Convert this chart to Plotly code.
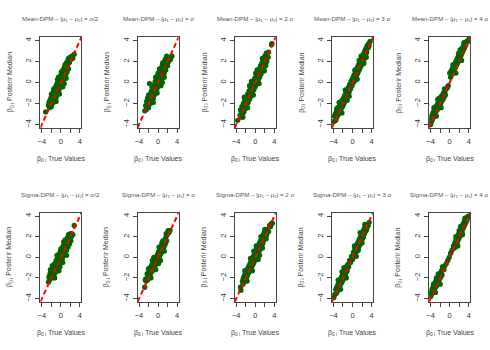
import plotly.graph_objects as go

# ---- data: (true value, posterior median) pairs ----
mean_half = [(-3.2,-2.8),(-2.6,-2.2),(-2.5,-1.9),(-2.4,-2.4),(-2.3,-1.7),(-2.2,-2.1),(-2.1,-1.5),(-2.0,-2.3),(-1.9,-1.8),(-1.8,-1.2),(-1.8,-2.0),(-1.7,-1.5),(-1.6,-0.9),(-1.6,-1.9),(-1.5,-1.3),(-1.4,-0.7),(-1.4,-1.7),(-1.3,-1.1),(-1.2,-0.5),(-1.2,-1.5),(-1.1,-0.9),(-1.0,-0.3),(-1.0,-1.4),(-0.9,-0.7),(-0.8,-0.1),(-0.8,-1.1),(-0.7,-0.5),(-0.6,0.1),(-0.6,-0.9),(-0.5,-0.3),(-0.4,0.3),(-0.4,-0.7),(-0.3,-0.1),(-0.2,0.5),(-0.2,-0.5),(-0.1,0.1),(0.0,0.7),(0.0,-0.4),(0.1,0.3),(0.2,0.9),(0.2,-0.1),(0.3,0.5),(0.4,1.1),(0.4,0.1),(0.5,0.7),(0.6,1.3),(0.6,0.3),(0.7,0.9),(0.8,1.5),(0.8,0.5),(0.9,1.1),(1.0,1.7),(1.0,0.7),(1.1,1.3),(1.2,1.9),(1.3,1.0),(1.4,1.6),(1.5,2.1),(1.6,1.3),(1.8,1.9),(1.9,2.4),(2.1,2.2),(2.3,2.5),(2.5,2.3),(2.8,2.7),
             (-1.5,-0.6),(-1.0,-1.8),(-0.7,0.3),(-0.3,-1.1),(0.1,1.0),(0.4,-0.4),(0.9,1.7),(1.1,0.4),(1.6,2.3),(-2.0,-1.1),(-0.5,0.5),(0.7,-0.1)]
mean_1 = [(-2.8,-2.7),(-2.6,-2.2),(-2.5,-2.6),(-2.4,-1.8),(-2.3,-2.3),(-2.2,-1.5),(-2.1,-2.0),(-2.0,-2.4),(-1.9,-1.4),(-1.8,-1.8),(-1.8,-0.1),(-1.7,-1.1),(-1.6,-2.0),(-1.5,-1.4),(-1.4,-0.8),(-1.3,-1.7),(-1.2,-1.1),(-1.1,-0.5),(-1.0,-1.5),(-0.9,-0.8),(-0.8,-0.2),(-0.8,-1.2),(-0.7,-0.6),(-0.6,0.1),(-0.5,-0.9),(-0.4,-0.3),(-0.3,0.4),(-0.3,-0.7),(-0.2,0.0),(-0.1,0.6),(0.0,-0.4),(0.1,0.2),(0.2,0.9),(0.2,-0.2),(0.3,0.5),(0.4,1.1),(0.5,0.1),(0.6,0.8),(0.7,1.4),(0.7,0.3),(0.8,1.0),(0.9,1.7),(1.0,0.6),(1.1,1.3),(1.2,1.9),(1.3,0.9),(1.4,1.6),(1.5,2.2),(1.6,1.2),(1.7,1.9),(1.9,2.3),(2.0,1.6),(2.2,2.0),(2.4,2.4),(2.6,2.2),(2.9,2.5),
          (-1.3,-0.4),(-1.0,-1.9),(-0.5,0.5),(-0.2,-1.0),(0.3,1.3),(0.6,-0.3),(1.0,1.9),(1.3,0.5),(1.8,2.5),(-2.0,-1.2),(0.0,0.9),(0.9,0.0)]
mean_2 = [(-3.7,-3.6),(-3.2,-3.1),(-3.1,-2.6),(-3.0,-3.3),(-2.9,-2.8),(-2.8,-2.3),(-2.7,-3.0),(-2.6,-2.5),(-2.5,-2.0),(-2.4,-2.8),(-2.3,-2.2),(-2.2,-1.7),(-2.1,-2.5),(-2.0,-1.9),(-1.9,-1.4),(-1.8,-2.2),(-1.7,-1.6),(-1.6,-1.1),(-1.5,-1.9),(-1.4,-1.3),(-1.3,-0.8),(-1.2,-1.6),(-1.1,-1.0),(-1.0,-0.5),(-0.9,-1.3),(-0.8,-0.7),(-0.7,-0.2),(-0.6,-1.0),(-0.5,-0.4),(-0.4,0.1),(-0.3,-0.7),(-0.2,-0.1),(-0.1,0.4),(0.0,-0.4),(0.1,0.2),(0.2,0.7),(0.3,-0.1),(0.4,0.5),(0.5,1.0),(0.6,0.2),(0.7,0.8),(0.8,1.3),(0.9,0.5),(1.0,1.1),(1.1,1.6),(1.2,0.8),(1.3,1.4),(1.4,1.9),(1.5,1.1),(1.6,1.7),(1.7,2.2),(1.8,1.4),(1.9,2.0),(2.0,2.5),(2.1,1.7),(2.2,2.3),(2.3,2.8),(2.4,2.0),(2.5,2.6),(2.7,2.4),(2.8,2.9),(3.5,3.7),(3.4,3.6),
          (-2.3,-1.4),(-1.6,-2.4),(-0.8,0.1),(-0.4,-1.2),(0.4,1.2),(0.8,-0.1),(1.5,2.3),(1.9,1.1),(-1.2,-0.3),(0.1,0.9),(2.2,1.6),(-2.6,-3.3)]
mean_3 = [(-3.9,-3.7),(-3.8,-3.2),(-3.6,-3.0),(-3.5,-3.6),(-3.4,-2.8),(-3.3,-3.3),(-3.2,-2.6),(-3.1,-3.1),(-3.0,-2.4),(-2.9,-3.0),(-2.8,-2.3),(-2.7,-2.8),(-2.6,-2.1),(-2.5,-2.6),(-2.4,-1.9),(-2.3,-2.4),(-2.2,-1.7),(-2.1,-2.3),(-2.0,-1.6),(-1.9,-2.1),(-1.8,-1.4),(-1.7,-1.9),(-1.6,-1.2),(-1.5,-1.7),(-1.4,-1.0),(-1.3,-1.5),(-1.2,-0.8),(-1.0,-1.2),(-0.9,-0.5),(-0.7,-0.9),(-0.6,-0.2),(-0.4,-0.6),(-0.3,0.1),(-0.1,-0.3),(0.0,0.4),(0.2,0.0),(0.3,0.7),(0.5,0.2),(0.6,1.0),(0.8,0.5),(0.9,1.3),(1.0,0.8),(1.1,1.5),(1.2,1.0),(1.3,1.7),(1.4,1.2),(1.5,1.9),(1.6,1.4),(1.7,2.1),(1.8,1.6),(1.9,2.3),(2.0,1.8),(2.1,2.5),(2.2,2.0),(2.3,2.7),(2.4,2.2),(2.5,2.9),(2.6,2.5),(2.7,3.1),(2.8,2.7),(2.9,3.3),(3.0,2.9),(3.1,3.5),(3.3,3.3),(3.4,3.7),(3.5,3.5),(3.7,3.9),
          (-2.8,-1.9),(-2.2,-2.9),(-1.5,-0.7),(-1.1,-1.7),(0.5,1.2),(1.0,0.3),(1.8,2.5),(2.4,1.8),(-3.3,-2.5),(2.9,2.4),(1.4,2.1),(-0.7,-1.3)]
mean_4 = [(-4.0,-4.0),(-3.9,-3.4),(-3.8,-3.7),(-3.7,-3.1),(-3.6,-3.5),(-3.5,-2.9),(-3.4,-3.3),(-3.3,-2.7),(-3.2,-3.1),(-3.1,-2.5),(-3.0,-2.9),(-2.9,-2.3),(-2.8,-2.7),(-2.7,-2.2),(-2.6,-2.6),(-2.5,-2.0),(-2.4,-2.4),(-2.3,-1.8),(-2.2,-2.2),(-2.1,-1.7),(-2.0,-2.1),(-1.9,-1.5),(-1.8,-1.9),(-1.7,-1.3),(-1.6,-1.7),(-1.5,-1.2),(-1.4,-1.6),(-1.3,-1.0),(-1.2,-1.4),(-1.0,-0.9),(-0.9,-1.2),(-0.7,-0.6),(-0.5,-0.5),(-0.3,-0.3),(0.0,0.9),(0.2,0.5),(0.3,1.1),(0.5,0.8),(0.6,1.4),(0.8,1.0),(0.9,1.6),(1.0,1.2),(1.1,1.8),(1.2,1.4),(1.3,2.0),(1.4,1.6),(1.5,2.2),(1.6,1.8),(1.7,2.4),(1.8,2.0),(1.9,2.6),(2.0,2.2),(2.1,2.8),(2.2,2.4),(2.3,3.0),(2.4,2.6),(2.5,3.2),(2.6,2.8),(2.7,3.3),(2.8,3.0),(2.9,3.5),(3.0,3.2),(3.1,3.7),(3.2,3.4),(3.3,3.8),(3.4,3.6),(3.6,3.9),(3.8,3.9),(4.0,4.1),
          (-3.3,-2.4),(-2.8,-3.2),(-2.2,-1.5),(-1.8,-2.4),(-1.1,-0.6),(0.7,1.7),(1.3,0.9),(1.9,2.8),(2.5,2.1),(3.0,3.8),(-2.5,-1.6),(2.2,3.1)]
sigma_half = [(-2.6,-2.4),(-2.5,-1.9),(-2.4,-2.2),(-2.3,-1.6),(-2.2,-2.0),(-2.1,-1.4),(-2.0,-1.8),(-1.9,-1.2),(-1.8,-2.0),(-1.7,-1.5),(-1.6,-0.9),(-1.5,-1.8),(-1.4,-1.2),(-1.3,-0.6),(-1.2,-1.5),(-1.1,-0.9),(-1.0,-0.3),(-0.9,-1.3),(-0.8,-0.6),(-0.7,0.0),(-0.6,-1.0),(-0.5,-0.3),(-0.4,0.3),(-0.3,-0.7),(-0.2,0.0),(-0.1,0.6),(0.0,-0.4),(0.1,0.2),(0.2,0.9),(0.3,-0.1),(0.4,0.5),(0.5,1.1),(0.6,0.2),(0.7,0.8),(0.8,1.4),(0.9,0.4),(1.0,1.0),(1.1,1.6),(1.2,0.7),(1.3,1.3),(1.4,1.9),(1.5,1.0),(1.6,1.5),(1.7,2.1),(1.8,1.3),(1.9,1.8),(2.0,2.3),(2.1,1.6),(2.2,2.0),(2.3,2.3),(2.5,2.2),(2.8,3.1),
              (-1.8,-0.8),(-1.3,-2.0),(-0.8,0.2),(-0.4,-1.3),(0.0,0.8),(0.4,-0.5),(0.9,1.7),(1.2,0.2),(1.6,2.2),(-2.2,-1.2),(0.6,1.5),(-0.2,-0.9)]
sigma_1 = [(-2.8,-2.9),(-2.7,-2.2),(-2.6,-2.1),(-2.5,-2.3),(-2.3,-1.6),(-2.2,-2.2),(-2.1,-1.5),(-2.0,-1.9),(-1.9,-1.3),(-1.8,-1.8),(-1.7,-1.1),(-1.6,-1.6),(-1.5,-0.9),(-1.4,-1.4),(-1.3,-0.7),(-1.2,-1.3),(-1.1,-0.6),(-1.0,-1.1),(-0.9,-0.4),(-0.8,-0.9),(-0.7,-0.2),(-0.6,-0.8),(-0.5,-0.1),(-0.4,-0.6),(-0.3,0.1),(-0.2,-0.4),(-0.1,0.3),(0.0,-0.2),(0.1,0.5),(0.2,0.0),(0.3,0.7),(0.4,0.2),(0.5,0.9),(0.6,0.4),(0.7,1.1),(0.8,0.6),(0.9,1.3),(1.0,0.8),(1.1,1.5),(1.2,1.0),(1.3,1.6),(1.4,1.2),(1.5,1.8),(1.6,1.4),(1.7,2.0),(1.8,1.6),(1.9,2.2),(2.0,2.3),(2.1,2.6),(2.3,2.4),(2.5,2.6),
           (-2.0,-1.1),(-1.5,-2.0),(-0.9,0.0),(-0.5,-1.2),(0.2,1.0),(0.5,-0.3),(1.0,1.6),(1.3,0.6),(1.7,2.3),(-1.2,-0.3),(0.8,1.4),(0.1,-0.6)]
sigma_2 = [(-3.1,-2.9),(-3.0,-3.2),(-2.7,-2.3),(-2.6,-2.6),(-2.5,-2.0),(-2.4,-2.4),(-2.3,-1.8),(-2.2,-2.2),(-2.1,-1.6),(-2.0,-2.0),(-1.9,-1.4),(-1.8,-1.9),(-1.7,-1.2),(-1.6,-1.7),(-1.5,-1.0),(-1.4,-1.5),(-1.3,-0.8),(-1.2,-1.3),(-1.1,-0.6),(-1.0,-1.1),(-0.9,-0.4),(-0.8,-0.9),(-0.7,-0.2),(-0.6,-0.8),(-0.5,0.0),(-0.4,-0.6),(-0.3,0.2),(-0.2,-0.4),(-0.1,0.4),(0.0,-0.2),(0.1,0.6),(0.2,0.0),(0.3,0.8),(0.4,0.2),(0.5,1.0),(0.6,0.4),(0.7,1.2),(0.8,0.6),(0.9,1.4),(1.0,0.8),(1.1,1.6),(1.2,1.0),(1.3,1.8),(1.4,1.2),(1.5,2.0),(1.6,1.4),(1.7,2.2),(1.8,1.7),(1.9,2.4),(2.0,2.0),(2.2,2.6),(2.4,2.2),(2.6,2.7),(2.8,2.5),(3.0,3.1),(3.2,3.0),(3.4,3.3),(3.6,3.3),
           (-2.2,-1.3),(-1.7,-2.3),(-1.0,-0.1),(-0.6,-1.3),(0.2,1.1),(0.6,-0.2),(1.2,2.0),(1.5,0.9),(2.0,2.7),(2.3,1.8),(-0.3,0.6),(0.9,0.2)]
sigma_3 = [(-3.9,-3.9),(-3.7,-3.6),(-3.5,-3.1),(-3.4,-3.5),(-3.3,-2.9),(-3.2,-3.3),(-3.1,-2.7),(-3.0,-3.1),(-2.9,-2.5),(-2.8,-2.9),(-2.7,-2.3),(-2.6,-2.7),(-2.5,-2.1),(-2.4,-2.5),(-2.3,-1.9),(-2.2,-2.4),(-2.1,-1.7),(-2.0,-2.2),(-1.9,-1.5),(-1.8,-2.0),(-1.7,-1.3),(-1.6,-1.8),(-1.5,-1.1),(-1.4,-1.6),(-1.3,-0.9),(-1.1,-1.3),(-1.0,-0.7),(-0.8,-0.9),(-0.6,-0.3),(-0.4,-0.5),(-0.2,0.1),(0.0,-0.2),(0.2,0.5),(0.3,0.1),(0.5,0.8),(0.6,0.4),(0.8,1.1),(0.9,0.6),(1.0,1.3),(1.1,0.8),(1.2,1.5),(1.3,1.0),(1.4,1.7),(1.5,1.2),(1.6,1.9),(1.7,1.4),(1.8,2.1),(1.9,1.6),(2.0,2.3),(2.1,1.8),(2.2,2.5),(2.3,2.0),(2.4,2.7),(2.5,2.3),(2.6,2.9),(2.7,2.5),(2.8,3.0),(3.0,2.8),(3.1,3.2),(3.3,3.1),(3.5,3.4),
           (-3.0,-2.2),(-2.5,-3.1),(-1.8,-1.0),(-1.3,-2.0),(0.4,1.1),(0.8,0.1),(1.6,2.4),(2.0,1.4),(2.6,3.2),(-2.2,-1.4),(1.2,0.7),(2.9,2.6)]
sigma_4 = [(-4.0,-3.8),(-3.9,-3.4),(-3.8,-3.6),(-3.7,-3.1),(-3.6,-3.4),(-3.5,-2.9),(-3.4,-3.3),(-3.3,-2.7),(-3.2,-3.1),(-3.1,-2.5),(-3.0,-2.9),(-2.9,-2.3),(-2.8,-2.8),(-2.7,-2.2),(-2.6,-2.6),(-2.5,-2.0),(-2.4,-2.4),(-2.3,-1.8),(-2.2,-2.2),(-2.1,-1.6),(-2.0,-2.0),(-1.9,-1.5),(-1.8,-1.8),(-1.7,-1.3),(-1.6,-1.7),(-1.4,-1.1),(-1.2,-1.2),(-1.0,-0.8),(-0.7,-0.6),(-0.4,-0.3),(-0.1,0.0),(0.2,0.4),(0.5,0.7),(0.8,1.1),(1.0,0.9),(1.1,1.4),(1.2,1.1),(1.3,1.7),(1.4,1.3),(1.5,1.9),(1.6,1.5),(1.7,2.1),(1.8,1.7),(1.9,2.3),(2.0,1.9),(2.1,2.5),(2.2,2.1),(2.3,2.7),(2.4,2.3),(2.5,2.9),(2.6,2.5),(2.7,3.1),(2.8,2.8),(2.9,3.3),(3.0,3.0),(3.1,3.5),(3.2,3.2),(3.3,3.7),(3.4,3.4),(3.5,3.8),(3.6,3.6),(3.8,3.9),(3.9,4.0),
           (-3.4,-2.6),(-3.0,-3.4),(-2.4,-1.6),(-2.0,-2.6),(-1.5,-0.9),(1.3,2.0),(1.7,1.1),(2.3,3.0),(2.7,2.2),(3.2,3.8),(-2.8,-2.0),(2.0,2.6)]

panels = [mean_half, mean_1, mean_2, mean_3, mean_4,
          sigma_half, sigma_1, sigma_2, sigma_3, sigma_4]
models = ["Mean-DPM", "Sigma-DPM"]
separations = ["σ/2", "σ", "2 σ", "3 σ", "4 σ"]
tick_vals = [-4, -2, 0, 2, 4]
x_tick_text = ["−4", " ", "0", " ", "4"]
y_tick_text = ["−4", "−2", "0", "2", "4"]
identity_line = [-5, 5]

W, H = 490, 350
FONT = "Liberation Sans, Arial, sans-serif"
col_x0 = [37.7 + 98 * i for i in range(5)]
box_w = 41.3
row_top = [37.0, 212.7]
row_bot = [128.0, 302.0]

fig = go.Figure()
layout = {}
annotations = []

for r in range(2):
    for c in range(5):
        k = r * 5 + c + 1
        sfx = "" if k == 1 else str(k)
        pts = panels[k - 1]
        xs = [p[0] for p in pts]
        ys = [p[1] for p in pts]
        fig.add_trace(go.Scatter(x=xs, y=ys, mode="markers",
                                 marker=dict(color="#006400", size=5.3, line=dict(width=0)),
                                 xaxis="x" + sfx, yaxis="y" + sfx, showlegend=False,
                                 hoverinfo="skip"))
        fig.add_trace(go.Scatter(x=identity_line, y=identity_line, mode="lines",
                                 line=dict(color="#ff0000", width=2, dash="5px,3px"),
                                 xaxis="x" + sfx, yaxis="y" + sfx, showlegend=False,
                                 hoverinfo="skip"))
        x0 = col_x0[c]
        x1 = x0 + box_w
        yt, yb = row_top[r], row_bot[r]
        common = dict(ticks="outside", ticklen=4, tickwidth=1, tickcolor="#444",
                      showline=True, mirror=True, linecolor="#444", linewidth=1,
                      showgrid=False, zeroline=False, fixedrange=True,
                      tickfont=dict(size=7.5, color="#333", family=FONT),
                      tickvals=tick_vals)
        layout["xaxis" + sfx] = dict(domain=[x0 / W, x1 / W], anchor="y" + sfx,
                                     range=[-4.3, 4.3], ticktext=x_tick_text,
                                     ticklabelstandoff=2, **common)
        layout["yaxis" + sfx] = dict(domain=[1 - yb / H, 1 - yt / H], anchor="x" + sfx,
                                     range=[-4.33, 4.33], ticktext=y_tick_text,
                                     tickangle=-90, ticklabelstandoff=1, **common)
        cx = (x0 + x1) / 2 / W
        title = f"{models[r]} – |μ<sub>1</sub> – μ<sub>2</sub>| = {separations[c]}"
        annotations.append(dict(text=title, x=cx, y=1 - (yt - 18) / H, xref="paper", yref="paper",
                                xanchor="center", yanchor="middle", showarrow=False,
                                font=dict(size=6.2, color="#555", family=FONT)))
        annotations.append(dict(text="β<sub>0 i</sub> True Values", x=cx, y=1 - (yb + 31) / H,
                                xref="paper", yref="paper", xanchor="center", yanchor="middle",
                                showarrow=False, font=dict(size=7, color="#444", family=FONT)))
        annotations.append(dict(text="β<sub>0 i</sub> Posterir Median", x=(x0 - 31) / W,
                                y=1 - (yt + yb) / 2 / H, xref="paper", yref="paper",
                                xanchor="center", yanchor="middle", textangle=-90,
                                showarrow=False, font=dict(size=7, color="#444", family=FONT)))

fig.update_layout(width=W, height=H, margin=dict(l=0, r=0, t=0, b=0),
                  paper_bgcolor="white", plot_bgcolor="white",
                  annotations=annotations, **layout)
fig.write_html("out.html", config={"displayModeBar": False, "staticPlot": True},
               post_script="document.body.style.margin='0';document.body.style.overflow='hidden';")
